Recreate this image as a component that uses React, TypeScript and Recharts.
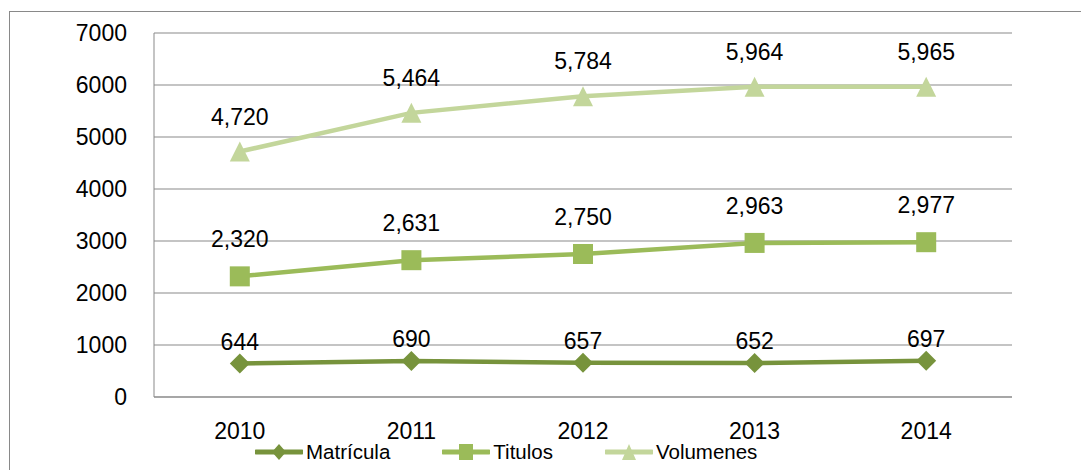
import React from 'react';
import { LineChart, Line, XAxis, YAxis, CartesianGrid, LabelList, Legend } from 'recharts';

const years = ['2010', '2011', '2012', '2013', '2014'];
const matricula = [644, 690, 657, 652, 697];
const titulos = [2320, 2631, 2750, 2963, 2977];
const volumenes = [4720, 5464, 5784, 5964, 5965];
const yTicks = [0, 1000, 2000, 3000, 4000, 5000, 6000, 7000];
const seriesKeys = ['matricula', 'titulos', 'volumenes'];
const seriesNames = ['Matrícula', 'Titulos', 'Volumenes'];
const seriesColors = ['#77933C', '#9BBB59', '#C3D69B'];
const seriesShapes = ['diamond', 'square', 'triangle'];
const labelOffsets = [14, 29, 27];

const data = years.map((y, i) => ({
  year: y,
  matricula: matricula[i],
  titulos: titulos[i],
  volumenes: volumenes[i],
}));

const FONT = '"Liberation Sans", Arial, sans-serif';
const GRID = '#898989';

function shapeEl(shape: string, cx: number, cy: number, color: string, hw: number, hh: number, key?: any) {
  if (shape === 'diamond') {
    return <polygon key={key} points={`${cx},${cy - hh} ${cx + hw},${cy} ${cx},${cy + hh} ${cx - hw},${cy}`} fill={color} />;
  }
  if (shape === 'square') {
    return <rect key={key} x={cx - hw} y={cy - hh} width={hw * 2} height={hh * 2} fill={color} />;
  }
  return <polygon key={key} points={`${cx},${cy - hh} ${cx + hw},${cy + hh} ${cx - hw},${cy + hh}`} fill={color} />;
}

const makeDot = (idx: number) => (props: any) => {
  const { cx, cy, index } = props;
  if (cx == null || cy == null) return <g key={`n${index}`} />;
  return shapeEl(seriesShapes[idx], cx, cy, seriesColors[idx], 10, 10, `d${idx}-${index}`);
};

const renderLegend = (props: any) => {
  const { payload } = props;
  return (
    <div style={{ display: 'flex', gap: 52, height: 24, alignItems: 'center', fontFamily: FONT, fontSize: 20.5, color: '#000', whiteSpace: 'nowrap' }}>
      {(payload || []).map((entry: any, i: number) => {
        const idx = seriesNames.indexOf(entry.value);
        const k = idx >= 0 ? idx : i;
        return (
          <div key={i} style={{ display: 'flex', alignItems: 'center' }}>
            <svg width={48} height={22} style={{ display: 'block' }}>
              <line x1={1} y1={11} x2={47} y2={11} stroke={seriesColors[k]} strokeWidth={5} strokeLinecap="round" />
              {shapeEl(seriesShapes[k], 24, 11, seriesColors[k], 7, 8)}
            </svg>
            <span style={{ marginLeft: 3, lineHeight: '24px' }}>{entry.value}</span>
          </div>
        );
      })}
    </div>
  );
};

const fmt = (v: any) => Number(v).toLocaleString('en-US');

export default function App() {
  return (
    <div style={{ position: 'absolute', left: 0, top: 0, width: 1081, height: 470, overflow: 'hidden', background: '#fff' }}>
      <div style={{ position: 'absolute', left: 9, top: 11, width: 1100, height: 500, borderLeft: `1px solid ${GRID}`, borderTop: `1px solid ${GRID}` }} />
      <div style={{ position: 'absolute', left: 0, top: 0 }}>
        <LineChart width={1081} height={470} data={data} margin={{ top: 33, right: 69, bottom: 19, left: 74 }}>
          <CartesianGrid vertical={false} stroke={GRID} strokeWidth={1} />
          <XAxis
            dataKey="year"
            padding={{ left: 85.8, right: 85.8 }}
            axisLine={{ stroke: GRID, strokeWidth: 1 }}
            tickLine={false}
            tickSize={0}
            tickMargin={26}
            height={30}
            tick={{ fill: '#000', fontSize: 23, fontFamily: FONT }}
          />
          <YAxis
            domain={[0, 7000]}
            ticks={yTicks}
            width={80}
            axisLine={{ stroke: GRID, strokeWidth: 1 }}
            tickLine={false}
            tickSize={0}
            tickMargin={27}
            tick={{ fill: '#000', fontSize: 23, fontFamily: FONT }}
            interval={0}
          />
          <Legend
            verticalAlign="bottom"
            content={renderLegend}
            wrapperStyle={{ left: 255, top: 440, bottom: 'auto', width: 'auto', height: 24 }}
          />
          {seriesKeys.map((k, i) => (
            <Line
              key={k}
              dataKey={k}
              name={seriesNames[i]}
              stroke={seriesColors[i]}
              strokeWidth={4.5}
              dot={makeDot(i)}
              activeDot={false}
              isAnimationActive={false}
            >
              <LabelList
                dataKey={k}
                position="top"
                offset={labelOffsets[i]}
                formatter={fmt}
                style={{ fill: '#000', fontSize: 23, fontFamily: FONT }}
              />
            </Line>
          ))}
        </LineChart>
      </div>
    </div>
  );
}
